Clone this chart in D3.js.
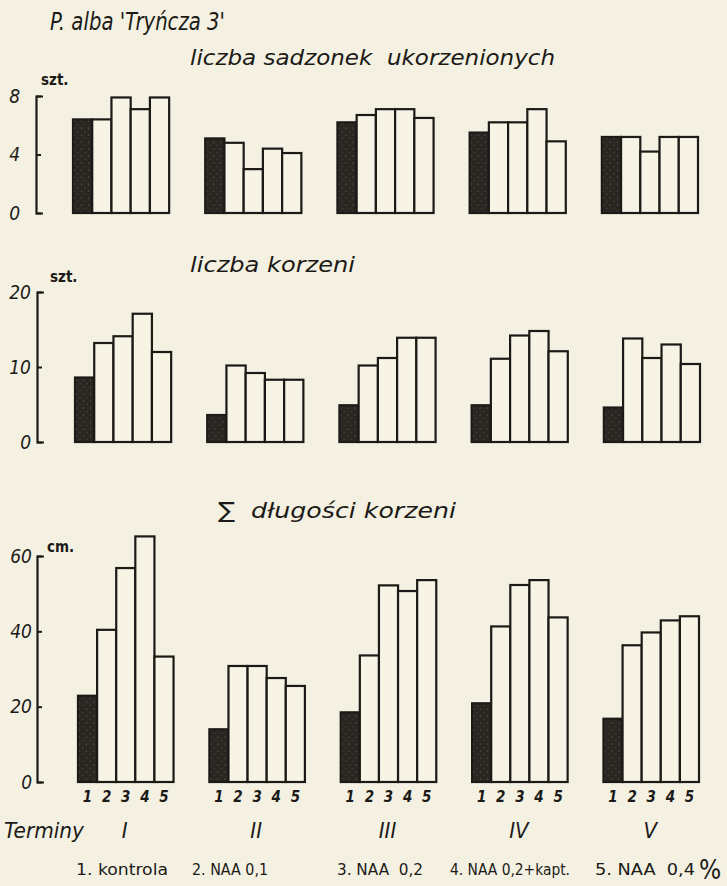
<!DOCTYPE html>
<html>
<head>
<meta charset="utf-8">
<script src="https://cdn.jsdelivr.net/npm/d3@7"></script>
<style>
  body { margin: 0; background: #f4f1e2; }
  svg { display: block; }
  text { font-family: "Liberation Sans Narrow", "DejaVu Sans Condensed", "DejaVu Sans", sans-serif; fill: #1c1a17; }
</style>
</head>
<body>
<svg width="727" height="886"></svg>
<script>
"use strict";

// terminy (grupy) i zabiegi (słupki w grupie)
const terminy = ["I", "II", "III", "IV", "V"];
const zabiegi = ["1", "2", "3", "4", "5"];
const legenda = ["1. kontrola", "2. NAA 0,1", "3. NAA  0,2", "4. NAA 0,2+kapt.", "5. NAA  0,4"];

// liczba sadzonek ukorzenionych (szt.)
const sadzonki = [
  [6.4, 6.4, 7.9, 7.1, 7.9],
  [5.1, 4.8, 3.0, 4.4, 4.1],
  [6.2, 6.7, 7.1, 7.1, 6.5],
  [5.5, 6.2, 6.2, 7.1, 4.9],
  [5.2, 5.2, 4.2, 5.2, 5.2]
];
// liczba korzeni (szt.)
const korzenie = [
  [8.6, 13.2, 14.1, 17.1, 12.0],
  [3.6, 10.2, 9.2, 8.3, 8.3],
  [4.9, 10.2, 11.2, 13.9, 13.9],
  [4.9, 11.1, 14.2, 14.8, 12.1],
  [4.6, 13.8, 11.2, 13.0, 10.4]
];
// suma długości korzeni (cm)
const dlugosci = [
  [22.9, 40.4, 56.8, 65.2, 33.3],
  [14.0, 30.8, 30.8, 27.6, 25.5],
  [18.5, 33.6, 52.2, 50.7, 53.6],
  [20.9, 41.3, 52.3, 53.6, 43.7],
  [16.8, 36.3, 39.7, 42.9, 44.0]
];

const svg = d3.select("svg");

// ziarnista czerń słupków kontroli
const pat = svg.append("defs").append("pattern")
  .attr("id", "ciemny").attr("patternUnits", "userSpaceOnUse")
  .attr("width", 7).attr("height", 7);
pat.append("rect").attr("width", 7).attr("height", 7).style("fill", "#2a2723");
pat.append("circle").attr("cx", 1.5).attr("cy", 2).attr("r", 0.6).style("fill", "#6e685e");
pat.append("circle").attr("cx", 5).attr("cy", 5.5).attr("r", 0.5).style("fill", "#5c574f");

// tytuł
svg.append("text").attr("x", 50).attr("y", 30)
  .attr("font-size", 24).attr("textLength", 175).attr("lengthAdjust", "spacingAndGlyphs")
  .style("font-style", "italic")
  .text("P. alba 'Tryńcza 3'");

// jeden panel = oś y + 5 grup po 5 słupków
function panel(dane, opt) {
  const x = d3.scaleBand().domain(terminy).range(opt.xr).paddingInner(36 / 132);
  const xs = d3.scaleBand().domain(zabiegi).range([0, x.bandwidth()]);
  const y = d3.scaleLinear().domain([0, opt.max]).range(opt.yr);

  svg.append("text").attr("x", opt.tx).attr("y", opt.ty)
    .attr("font-size", 22).attr("textLength", opt.tw).attr("lengthAdjust", "spacingAndGlyphs")
    .style("font-style", "italic").style("white-space", "pre")
    .text(opt.title);

  svg.append("text").attr("x", opt.ux).attr("y", opt.uy)
    .attr("font-size", 15).style("font-weight", "bold").text(opt.unit);

  const ax = svg.append("g").attr("transform", `translate(${opt.axX},0)`)
    .call(d3.axisLeft(y).tickValues(opt.ticks).tickSizeInner(-5).tickSizeOuter(-7).tickPadding(opt.pad));
  ax.select(".domain").attr("stroke", "#1c1a17").attr("stroke-width", 2.2);
  ax.selectAll(".tick line").attr("stroke", "#1c1a17").attr("stroke-width", 2);
  ax.selectAll(".tick text").attr("font-size", 19).attr("fill", "#1c1a17")
    .style("font-style", "italic")
    .style("font-family", "\"Liberation Sans Narrow\", \"DejaVu Sans Condensed\", sans-serif");

  const g = svg.selectAll(null).data(dane).enter().append("g")
    .attr("transform", (d, i) => `translate(${x(terminy[i])},0)`);

  g.selectAll("rect").data(d => d).enter().append("rect")
    .attr("x", (d, j) => xs(zabiegi[j]))
    .attr("y", d => y(d))
    .attr("width", xs.bandwidth())
    .attr("height", d => y(0) - y(d))
    .style("fill", (d, j) => j === 0 ? "url(#ciemny)" : "#f7f4e6")
    .style("stroke", "#1c1a17")
    .style("stroke-width", 2.2);

  return { x, xs, y, g };
}

panel(sadzonki, {
  xr: [73, 698], yr: [213, 96], max: 8, ticks: [0, 4, 8], axX: 36, pad: 16,
  title: "liczba sadzonek  ukorzenionych", tx: 190, ty: 65, tw: 365,
  unit: "szt.", ux: 41, uy: 85
});

panel(korzenie, {
  xr: [75, 700], yr: [442, 292], max: 20, ticks: [0, 10, 20], axX: 37, pad: 6,
  title: "liczba korzeni", tx: 190, ty: 272, tw: 165,
  unit: "szt.", ux: 50, uy: 282
});

const dol = panel(dlugosci, {
  xr: [78, 699], yr: [782, 556], max: 60, ticks: [0, 20, 40, 60], axX: 37, pad: 5,
  title: "\u2211  długości korzeni", tx: 218, ty: 518, tw: 238,
  unit: "cm.", ux: 47, uy: 552
});

// numery zabiegów pod słupkami
dol.g.selectAll(".nr").data(zabiegi).enter().append("text")
  .attr("class", "nr")
  .attr("x", d => dol.xs(d) + dol.xs.bandwidth() / 2)
  .attr("y", 802)
  .attr("text-anchor", "middle")
  .attr("font-size", 15)
  .style("font-weight", "bold").style("font-style", "italic")
  .text(d => d);

// terminy
svg.append("text").attr("x", 4).attr("y", 838).attr("font-size", 22)
  .attr("textLength", 80).attr("lengthAdjust", "spacingAndGlyphs")
  .style("font-style", "italic").text("Terminy");
svg.selectAll(".rz").data(terminy).enter().append("text")
  .attr("class", "rz")
  .attr("x", d => dol.x(d) + dol.x.bandwidth() / 2 - 1)
  .attr("y", 838)
  .attr("text-anchor", "middle")
  .attr("font-size", 22).style("font-style", "italic")
  .text(d => d);

// legenda zabiegów
const legX = [76, 192, 337, 450, 595];
const legW = [92, 76, 86, 120, 100];
legenda.forEach((t, i) => {
  svg.append("text").attr("x", legX[i]).attr("y", 875)
    .attr("font-size", 16)
    .attr("textLength", legW[i]).attr("lengthAdjust", "spacingAndGlyphs")
    .style("white-space", "pre")
    .text(t);
});
svg.append("text").attr("x", 699).attr("y", 879)
  .attr("font-size", 26).text("%");
</script>
</body>
</html>
